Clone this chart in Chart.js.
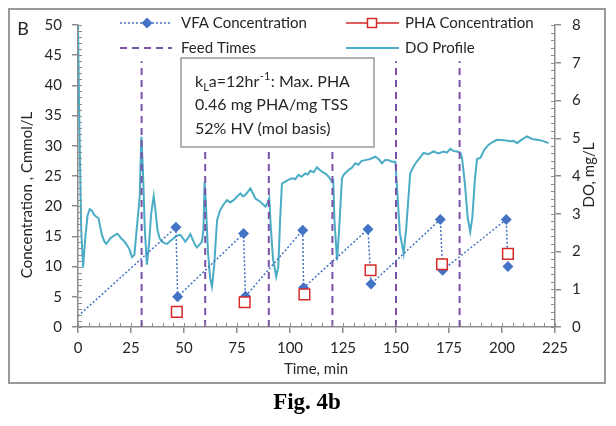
<!DOCTYPE html>
<html>
<head>
<meta charset="utf-8">
<script src="https://cdn.jsdelivr.net/npm/chart.js@4/dist/chart.umd.min.js"></script>
<style>
  html, body { margin: 0; padding: 0; background: #fff; }
  #wrap { width: 616px; height: 426px; position: relative; }
</style>
</head>
<body>
<div id="wrap"><canvas id="chart" width="616" height="426"></canvas></div>
<script>
// VFA concentration (Cmmol/L) - sawtooth, fed then consumed
const vfaTime = [0, 46.2, 47, 78.1, 79, 106, 106.4, 136.8, 138.2, 170.9, 172, 202, 202.8];
const vfaConc = [1.8, 16.5, 5.0, 15.5, 5.1, 16.0, 6.5, 16.2, 7.1, 17.8, 9.4, 17.8, 10.0];

// PHA concentration (Cmmol/L)
const phaTime = [46.6, 78.6, 106.8, 138, 171.7, 202.8];
const phaConc = [2.5, 4.1, 5.4, 9.4, 10.4, 12.1];

// feed pulses (min)
const feedTimes = [30, 60, 90, 120, 150, 180];
const feedTop = 44;

// dissolved oxygen profile (mg/L, right axis)
const doTime = [0, 0.6, 1.5, 2.4, 3.5, 4.5, 5.5, 6.6, 7.5, 8.6, 9.7, 10.5, 11.3, 12.3, 13.3, 14.2, 15.2, 16.5,
  17.6, 18.5, 19.4, 20.3, 21.7, 23.1, 24.3, 25.5, 26.6, 27.8, 29.1, 29.9, 30.6, 31.5, 32.5, 33.5, 34.5, 35.7,
  36.5, 37.5, 38.5, 39.6, 40.8, 42, 43.5, 45.1, 46.5, 48.3, 49.5, 50.6, 51.8, 53, 54.2, 55.3, 56.1, 57.3, 58.5,
  59.2, 59.7, 60.3, 61.3, 62.3, 63.2, 64.2, 65.6, 67.1, 68.7, 70.3, 71.8, 73.4, 75, 76.6, 77.8, 78.9, 80.1,
  81.3, 82.4, 83.6, 84.8, 86, 87.2, 88.4, 89.5, 90.2, 91, 92, 93.5, 94.5, 95.3, 96.2, 97.8, 99.2, 100.9, 102.5,
  104, 105.5, 107.2, 108.4, 109.6, 111.2, 112.7, 114.2, 115.8, 117, 118.2, 119.8, 120.4, 121, 122.2, 123.2,
  124.5, 125.3, 126.5, 127.6, 129.2, 130.8, 132.2, 133.8, 135.5, 137.8, 140.2, 141.8, 143.4, 145, 146.5,
  148.1, 149.7, 150.7, 151.8, 153.6, 154.8, 156.7, 158.3, 159.9, 161.5, 163, 165.3, 167.7, 170, 172.5,
  174, 175.6, 177.2, 178.8, 180.3, 181.1, 182.5, 183.8, 185, 186, 187.2, 188.2, 189.8, 191.7, 193.7, 195.6,
  197.6, 200.8, 203.9, 205.5, 207.1, 209.5, 211.8, 214.2, 216.5, 219.2, 222];
const doValue = [8.0, 5.5, 2.6, 1.58, 2.4, 2.95, 3.12, 3.08, 2.98, 2.92, 2.88, 2.65, 2.44, 2.28, 2.2, 2.26, 2.35, 2.4,
  2.44, 2.47, 2.42, 2.35, 2.28, 2.17, 2.05, 1.85, 1.91, 2.66, 3.45, 5.04, 4.2, 2.6, 1.65, 2.2, 3.0, 3.47,
  3.1, 2.57, 2.35, 2.26, 2.22, 2.2, 2.28, 2.35, 2.42, 2.44, 2.35, 2.26, 2.35, 2.46, 2.3, 2.17, 2.11, 2.18, 2.26,
  2.6, 3.85, 3.3, 2.0, 1.3, 1.07, 1.6, 2.83, 3.1, 3.25, 3.36, 3.3, 3.36, 3.45, 3.54, 3.46, 3.5, 3.58,
  3.67, 3.55, 3.41, 3.36, 3.32, 3.25, 3.19, 3.3, 3.41, 2.6, 1.8, 1.33, 1.6, 2.8, 3.8, 3.85, 3.9, 3.94, 3.92,
  4.03, 3.98, 4.07, 4.04, 4.14, 4.1, 4.23, 4.15, 4.09, 4.05, 3.98, 3.85, 3.88, 2.8, 1.77, 2.6,
  3.94, 4.03, 4.1, 4.16, 4.22, 4.34, 4.3, 4.4, 4.42, 4.45, 4.51, 4.45, 4.34, 4.43, 4.42,
  4.38, 4.38, 3.5, 2.5, 1.95, 2.6, 4.07, 4.25, 4.39, 4.5, 4.61, 4.58, 4.65, 4.6, 4.65,
  4.62, 4.72, 4.66, 4.65, 4.62, 4.5, 3.8, 2.9, 2.52, 2.9, 3.9, 4.45, 4.48, 4.7, 4.83, 4.9,
  4.96, 4.95, 4.92, 4.93, 4.87, 4.97, 5.05, 4.98, 4.96, 4.93, 4.87];

const BLUE = '#4472C4';
const RED = '#D42A2A';
const PURPLE = '#7A52A8';
const CYAN = '#4BACC6';
const AXIS = '#8c8c8c';
const TEXT = '#262626';
const FONT = 'Lato, "Open Sans", sans-serif';

const pts = (xs, ys) => xs.map((x, i) => ({ x: x, y: ys[i] }));

const feedData = [];
feedTimes.forEach(t => {
  feedData.push({ x: t, y: 0 }, { x: t, y: feedTop }, { x: t, y: null });
});

// white frame, labels, legend, annotation box, minor ticks
const decorations = {
  id: 'decorations',
  beforeDraw(chart) {
    const ctx = chart.ctx;
    ctx.save();
    ctx.fillStyle = '#fff';
    ctx.fillRect(0, 0, chart.width, chart.height);
    ctx.restore();
  },
  afterDatasetsDraw(chart) {
    const ctx = chart.ctx;
    const { x, y, y1 } = chart.scales;
    ctx.save();

    // minor ticks
    ctx.strokeStyle = AXIS;
    ctx.lineWidth = 1;
    ctx.beginPath();
    for (let v = 0; v <= 225; v += 5) {
      const px = Math.round(x.getPixelForValue(v)) + 0.5;
      ctx.moveTo(px, y.bottom);
      ctx.lineTo(px, y.bottom - 4);
    }
    for (let v = 0; v <= 50; v += 1) {
      const py = Math.round(y.getPixelForValue(v)) + 0.5;
      ctx.moveTo(x.left, py);
      ctx.lineTo(x.left + 4, py);
    }
    for (let i = 0; i <= 40; i++) {
      const py = Math.round(y1.getPixelForValue(i * 0.2)) + 0.5;
      ctx.moveTo(x.right, py);
      ctx.lineTo(x.right - 4, py);
    }
    ctx.stroke();

    // annotation box
    ctx.fillStyle = '#fff';
    ctx.strokeStyle = '#999';
    ctx.lineWidth = 1.5;
    ctx.fillRect(181, 58, 193, 89);
    ctx.strokeRect(181, 58, 193, 89);

    ctx.fillStyle = TEXT;
    ctx.textBaseline = 'middle';
    ctx.textAlign = 'left';
    ctx.font = '16px ' + FONT;
    let tx = 195;
    ctx.fillText('k', tx, 82); tx += ctx.measureText('k').width;
    ctx.font = '11px ' + FONT;
    ctx.fillText('L', tx, 87); tx += ctx.measureText('L').width;
    ctx.font = '16px ' + FONT;
    ctx.fillText('a=12hr', tx, 82); tx += ctx.measureText('a=12hr').width;
    ctx.font = '11px ' + FONT;
    ctx.fillText('-1', tx + 0.5, 76); tx += ctx.measureText('-1').width + 1;
    ctx.font = '16px ' + FONT;
    ctx.fillText(': Max. PHA', tx, 82);
    ctx.fillText('0.46 mg PHA/mg TSS', 195, 105);
    ctx.fillText('52% HV (mol basis)', 195, 129);

    // legend
    ctx.font = '15px ' + FONT;
    const row1 = 23, row2 = 48;
    // VFA
    ctx.strokeStyle = BLUE; ctx.lineWidth = 1.5; ctx.setLineDash([2, 2]);
    ctx.beginPath(); ctx.moveTo(120, row1); ctx.lineTo(172, row1); ctx.stroke();
    ctx.setLineDash([]);
    ctx.fillStyle = BLUE;
    ctx.beginPath();
    ctx.moveTo(147, row1 - 5.5); ctx.lineTo(152.5, row1); ctx.lineTo(147, row1 + 5.5); ctx.lineTo(141.5, row1);
    ctx.closePath(); ctx.fill();
    ctx.fillStyle = TEXT;
    ctx.fillText('VFA Concentration', 181, row1);
    // PHA
    ctx.strokeStyle = RED; ctx.lineWidth = 1.5;
    ctx.beginPath(); ctx.moveTo(346, row1); ctx.lineTo(399, row1); ctx.stroke();
    ctx.fillStyle = '#fff';
    ctx.fillRect(367.5, row1 - 4.5, 9, 9);
    ctx.strokeRect(367.5, row1 - 4.5, 9, 9);
    ctx.fillStyle = TEXT;
    ctx.fillText('PHA Concentration', 405, row1);
    // Feed
    ctx.strokeStyle = PURPLE; ctx.lineWidth = 2; ctx.setLineDash([7, 5]);
    ctx.beginPath(); ctx.moveTo(120, row2); ctx.lineTo(172, row2); ctx.stroke();
    ctx.setLineDash([]);
    ctx.fillText('Feed Times', 181, row2);
    // DO
    ctx.strokeStyle = CYAN; ctx.lineWidth = 2;
    ctx.beginPath(); ctx.moveTo(346, row2); ctx.lineTo(399, row2); ctx.stroke();
    ctx.fillText('DO Profile', 405, row2);

    // panel letter and axis titles
    ctx.font = '18px ' + FONT;
    ctx.textAlign = 'center';
    ctx.fillText('B', 23, 29);
    ctx.font = '15px ' + FONT;
    ctx.fillText('Time, min', 316, 369);
    ctx.save();
    ctx.translate(27, 195);
    ctx.rotate(-Math.PI / 2);
    ctx.fillText('Concentration , Cmmol/L', 0, 0);
    ctx.restore();
    ctx.save();
    ctx.translate(589, 175);
    ctx.rotate(-Math.PI / 2);
    ctx.fillText('DO, mg/L', 0, 0);
    ctx.restore();

    // frame and caption
    ctx.strokeStyle = '#999';
    ctx.lineWidth = 2;
    ctx.strokeRect(9, 9, 596, 374);
    ctx.fillStyle = '#000';
    ctx.font = 'bold 23px "Liberation Serif", "DejaVu Serif", serif';
    ctx.fillText('Fig. 4b', 307, 403);

    ctx.restore();
  }
};

const axisGrid = { display: true, drawOnChartArea: false, drawTicks: true, tickLength: 6, color: AXIS, lineWidth: 1.5 };
const axisBorder = { display: true, color: AXIS, width: 1.5 };
const tickFont = { family: FONT, size: 15 };

new Chart(document.getElementById('chart'), {
  type: 'scatter',
  data: {
    datasets: [
      {
        label: 'PHA Concentration',
        data: pts(phaTime, phaConc),
        yAxisID: 'y',
        showLine: false,
        pointStyle: 'rect',
        pointRadius: 7.5,
        pointBorderWidth: 1.5,
        pointBorderColor: RED,
        pointBackgroundColor: '#fff',
        order: 0
      },
      {
        label: 'VFA Concentration',
        data: pts(vfaTime, vfaConc),
        yAxisID: 'y',
        showLine: true,
        borderColor: BLUE,
        borderWidth: 1.5,
        borderDash: [2, 2],
        pointStyle: 'rectRot',
        pointRadius: vfaTime.map((t, i) => i === 0 ? 0 : 5.5),
        pointBackgroundColor: BLUE,
        pointBorderColor: BLUE,
        pointBorderWidth: 0,
        order: 1
      },
      {
        label: 'Feed Times',
        data: feedData,
        yAxisID: 'y',
        showLine: true,
        spanGaps: false,
        borderColor: PURPLE,
        borderWidth: 2,
        borderDash: [7, 5],
        pointRadius: 0,
        order: 2
      },
      {
        label: 'DO Profile',
        data: pts(doTime, doValue),
        yAxisID: 'y1',
        showLine: true,
        borderColor: CYAN,
        borderWidth: 2,
        pointRadius: 0,
        tension: 0,
        order: 3
      }
    ]
  },
  options: {
    responsive: false,
    animation: false,
    events: [],
    layout: { padding: { left: 10, right: 10, top: 25, bottom: 59 } },
    plugins: { legend: { display: false }, tooltip: { enabled: false } },
    scales: {
      x: {
        type: 'linear',
        min: 0, max: 225,
        grid: axisGrid,
        border: axisBorder,
        ticks: { stepSize: 25, color: TEXT, font: tickFont, padding: 6, maxRotation: 0 },
        afterFit: s => { s.height = 40; }
      },
      y: {
        position: 'left',
        min: 0, max: 50,
        grid: axisGrid,
        border: axisBorder,
        ticks: { stepSize: 5, color: TEXT, font: tickFont, padding: 10 },
        afterFit: s => { s.width = 68; }
      },
      y1: {
        position: 'right',
        min: 0, max: 8,
        grid: axisGrid,
        border: axisBorder,
        ticks: { stepSize: 1, color: TEXT, font: tickFont, padding: 11 },
        afterFit: s => { s.width = 51; }
      }
    }
  },
  plugins: [decorations]
});
</script>
</body>
</html>
